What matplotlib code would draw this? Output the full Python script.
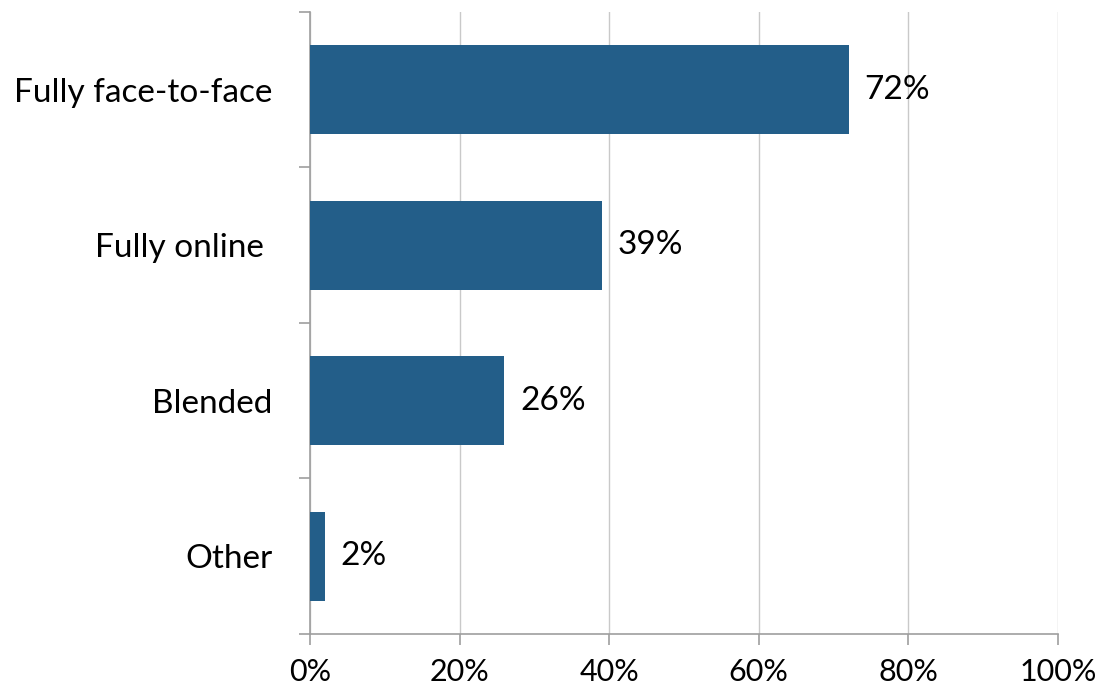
import numpy as np
import matplotlib.pyplot as plt
from matplotlib.ticker import FixedLocator, PercentFormatter

# delivery mode shares
modes = ["Fully face-to-face", "Fully online ", "Blended", "Other"]
shares = [72, 39, 26, 2]
value_labels = ["72%", "39%", "26%", "2%"]

plt.rcParams['font.family'] = ['Lato', 'DejaVu Sans']

fig = plt.figure(figsize=(10.99, 6.90), dpi=100)
ax = fig.add_axes([310/1099, 1 - 634/690, (1058 - 310)/1099, (634 - 12)/690])

ypos = np.arange(len(modes))
bars = ax.barh(ypos, shares, height=0.57, color="#235E89", zorder=3)

for bar, lab in zip(bars, value_labels):
    ax.text(bar.get_width() + 2.1, bar.get_y() + bar.get_height() / 2, lab,
            va="center", ha="left", fontsize=24, color="black", zorder=4)

ax.set_xlim(0, 100)
ax.set_ylim(len(modes) - 0.5, -0.5)
ax.set_xticks(np.arange(0, 101, 20))
ax.xaxis.set_major_formatter(PercentFormatter(decimals=0))
ax.set_yticks(ypos)
ax.set_yticklabels(modes)
ax.yaxis.set_minor_locator(FixedLocator(np.arange(-0.5, len(modes), 1)))

ax.grid(axis="x", color="#C9C9C9", linewidth=1.0, zorder=0)
for side in ["top", "right"]:
    ax.spines[side].set_visible(False)
for side in ["left", "bottom"]:
    ax.spines[side].set_color("#9E9E9E")
    ax.spines[side].set_linewidth(1.2)

ax.tick_params(axis="y", which="major", length=0, pad=27, labelsize=24)
ax.tick_params(axis="y", which="minor", length=8, width=1.2, color="#9E9E9E")
ax.tick_params(axis="x", length=8, width=1.2, color="#9E9E9E", pad=9, labelsize=22)

fig.savefig("out.png", dpi=100)
